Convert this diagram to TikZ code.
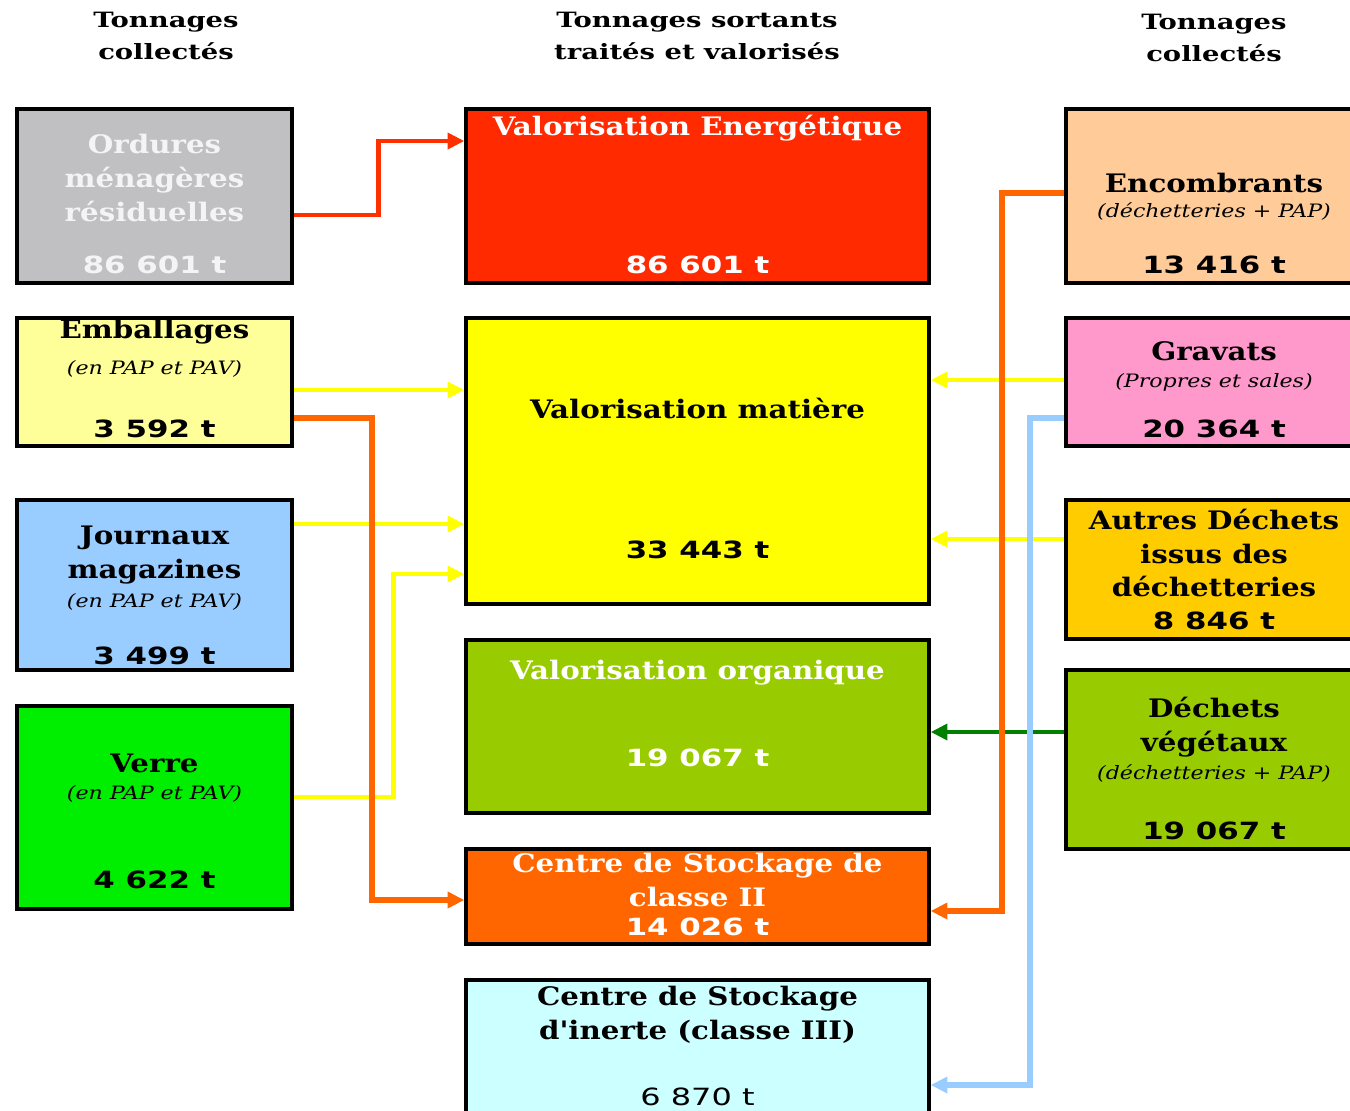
\documentclass[tikz,border=0pt]{standalone}
\usepackage{fontspec}
\usepackage{tikz}
\usetikzlibrary{arrows.meta}
\usepackage{xcolor}
\setmainfont{DejaVu Serif}
\newfontfamily\titrefont[FakeStretch=1.15]{DejaVu Serif Bold}
\newfontfamily\chiffrefont[FakeStretch=1.3]{DejaVu Sans Bold}
\newfontfamily\sousfont[FakeStretch=1.2]{DejaVu Serif Italic}
\newfontfamily\entetefont[FakeStretch=1.3]{DejaVu Serif Bold}
\newfontfamily\legerfont[FakeStretch=1.35]{DejaVu Sans}
\newcommand{\titre}{\titrefont\fontsize{14.5}{19.3}\selectfont}
\newcommand{\chiffre}{\chiffrefont\fontsize{13.5}{17}\selectfont}
\newcommand{\sous}{\sousfont\fontsize{10.5}{12}\selectfont}
\newcommand{\entete}{\entetefont\fontsize{12}{18}\selectfont}
\newcommand{\leger}{\legerfont\fontsize{13.5}{17}\selectfont}
\definecolor{gris}{HTML}{C0C0C2}
\definecolor{jaunepale}{HTML}{FFFF99}
\definecolor{bleupale}{HTML}{99CCFF}
\definecolor{vertvif}{HTML}{00EE00}
\definecolor{rouge}{HTML}{FF2A00}
\definecolor{jaune}{HTML}{FFFF00}
\definecolor{olive}{HTML}{99CC00}
\definecolor{orange}{HTML}{FF6600}
\definecolor{cyanpale}{HTML}{CCFFFF}
\definecolor{peche}{HTML}{FFCC99}
\definecolor{rose}{HTML}{FF99CC}
\definecolor{or}{HTML}{FFCC00}
\definecolor{vertfonce}{HTML}{007F00}
\definecolor{blanc}{HTML}{F4F4F4}
\tikzset{
  boite/.style={draw=black, line width=2pt, inner sep=0pt},
  gauche/.style={boite, minimum width=5.5cm},
  milieu/.style={boite, minimum width=9.26cm},
  droite/.style={boite, minimum width=5.88cm},
  titre/.style={font=\titre, align=center, inner sep=0pt},
  chiffre/.style={font=\chiffre, inner sep=0pt},
  sous/.style={font=\sous, inner sep=0pt},
  entete/.style={font=\entete, align=center, inner sep=0pt},
  flux/.style={line width=2.8pt, line join=miter, -{Triangle[length=9.5pt,width=9pt]}},
}

\begin{document}
\begin{tikzpicture}[x=0.02cm, y=-0.02cm]
\fill[white] (0,0) rectangle (1350,1110);
\useasboundingbox (0,0) rectangle (1350,1110);

\node[entete] (h1) at (166,36) {Tonnages\\collectés};
\node[entete] (h2) at (697,36) {Tonnages sortants\\traités et valorisés};
\node[entete] (h3) at (1214,38) {Tonnages\\collectés};

\node[gauche, fill=gris, minimum height=3.48cm] (om) at (154.5,196) {};
\node[titre, text=blanc] (om-t) at (154.5,178) {Ordures\\ménagères\\résiduelles};
\node[chiffre, text=blanc] (om-c) at (154.5,265) {86 601 t};
\node[gauche, fill=jaunepale, minimum height=2.56cm] (emb) at (154.5,382) {};
\node[titre] (emb-t) at (154.5,332) {Emballages};
\node[sous] (emb-s) at (154.5,369) {(en PAP et PAV)};
\node[chiffre] (emb-c) at (154.5,429) {3 592 t};
\node[gauche, fill=bleupale, minimum height=3.4cm] (jm) at (154.5,585) {};
\node[titre] (jm-t) at (154.5,555) {Journaux\\magazines};
\node[sous] (jm-s) at (154.5,602) {(en PAP et PAV)};
\node[chiffre] (jm-c) at (154.5,656) {3 499 t};
\node[gauche, fill=vertvif, minimum height=4.06cm] (ver) at (154.5,807.5) {};
\node[titre] (ver-t) at (154.5,763) {Verre};
\node[sous] (ver-s) at (154.5,794) {(en PAP et PAV)};
\node[chiffre] (ver-c) at (154.5,880) {4 622 t};

\node[milieu, fill=rouge, minimum height=3.48cm] (ve) at (697.5,196) {};
\node[titre, text=white] (ve-t) at (697.5,128) {Valorisation Energétique};
\node[chiffre, text=white] (ve-c) at (697.5,265) {86 601 t};
\node[milieu, fill=jaune, minimum height=5.72cm] (mat) at (697.5,461) {};
\node[titre] (mat-t) at (697.5,408) {Valorisation matière};
\node[chiffre] (mat-c) at (697.5,550) {33 443 t};
\node[milieu, fill=olive, minimum height=3.46cm] (org) at (697.5,726.5) {};
\node[titre, text=white] (org-t) at (697.5,673) {Valorisation organique};
\node[chiffre, text=white] (org-c) at (697.5,758) {19 067 t};
\node[milieu, fill=orange, minimum height=1.9cm] (cs2) at (697.5,896.5) {};
\node[titre, text=white] (cs2-t) at (697.5,880) {Centre de Stockage de\\classe II};
\node[chiffre, text=white] (cs2-c) at (697.5,927) {14 026 t};
\node[milieu, fill=cyanpale, minimum height=3cm] (cs3) at (697.5,1055) {};
\node[titre] (cs3-t) at (697.5,1014.5) {Centre de Stockage\\d'inerte (classe III)};
\node[font=\leger, inner sep=0pt] (cs3-c) at (697.5,1097) {6 870 t};

\node[droite, fill=peche, minimum height=3.48cm] (enc) at (1213,196) {};
\node[titre] (enc-t) at (1214,183) {Encombrants};
\node[sous] (enc-s) at (1214,212) {(déchetteries + PAP)};
\node[chiffre] (enc-c) at (1214,265) {13 416 t};
\node[droite, fill=rose, minimum height=2.56cm] (grav) at (1213,382) {};
\node[titre] (grav-t) at (1214,351) {Gravats};
\node[sous] (grav-s) at (1214,382) {(Propres et sales)};
\node[chiffre] (grav-c) at (1214,429) {20 364 t};
\node[droite, fill=or, minimum height=2.78cm] (aut) at (1213,569.5) {};
\node[titre] (aut-t) at (1214,553) {Autres Déchets\\issus des\\déchetteries};
\node[chiffre] (aut-c) at (1214,621) {8 846 t};
\node[droite, fill=olive, minimum height=3.58cm] (veg) at (1213,759.5) {};
\node[titre] (veg-t) at (1214,727) {Déchets\\végétaux};
\node[sous] (veg-s) at (1214,774) {(déchetteries + PAP)};
\node[chiffre] (veg-c) at (1214,831) {19 067 t};

\draw[flux, draw=rouge!90!orange] (om.east |- 0,215) -- ++(85,0) |- (ve.west |- 0,141);
\draw[flux, draw=jaune] (emb.east |- 0,390) -- (mat.west |- 0,390);
\draw[flux, draw=jaune] (jm.east |- 0,524) -- (mat.west |- 0,524);
\draw[flux, draw=jaune] (ver.east |- 0,797) -- ++(100,0) |- (mat.west |- 0,574);
\draw[flux, draw=jaune] (grav.west |- 0,380) -- (mat.east |- 0,380);
\draw[flux, draw=jaune] (aut.west |- 0,539) -- (mat.east |- 0,539);
\draw[flux, draw=vertfonce] (veg.west |- 0,732) -- (org.east |- 0,732);
\draw[flux, draw=orange, line width=3.6pt] (emb.east |- 0,418) -- ++(78,0) |- (cs2.west |- 0,900);
\draw[flux, draw=orange, line width=3.6pt] (enc.west |- 0,193) -- ++(-62,0) |- (cs2.east |- 0,911);
\draw[flux, draw=bleupale, line width=3.6pt] (grav.west |- 0,418) -- ++(-34,0) |- (cs3.east |- 0,1085);
\end{tikzpicture}
\end{document}
